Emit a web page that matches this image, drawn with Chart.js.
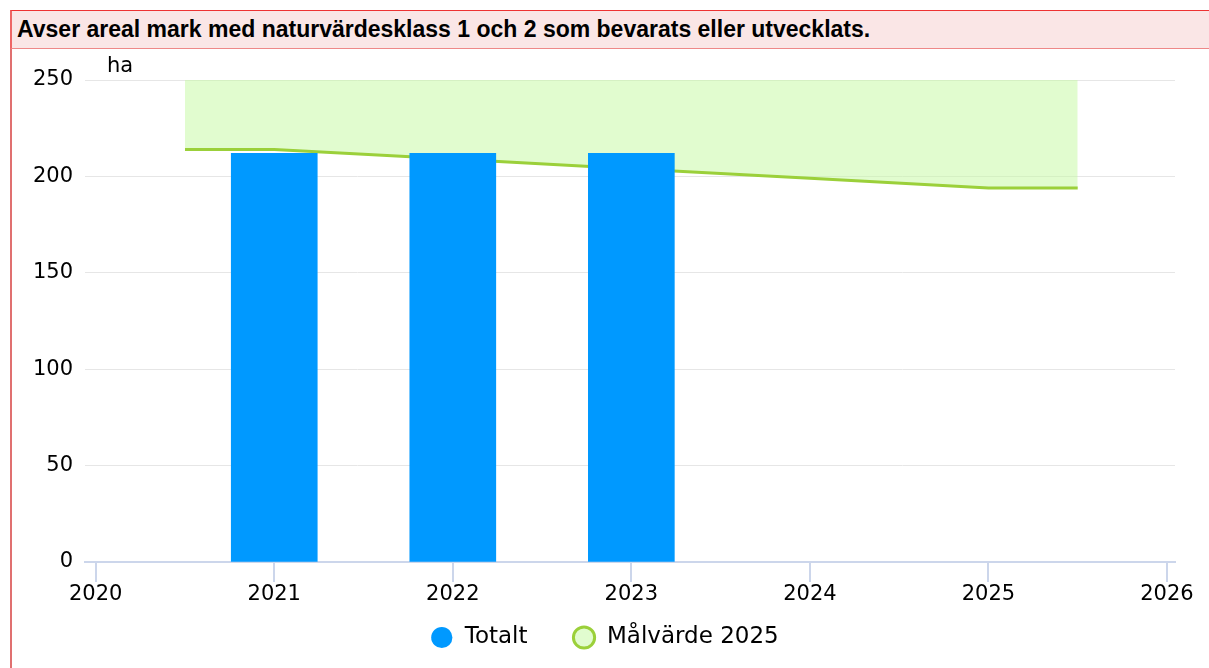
<!DOCTYPE html>
<html>
<head>
<meta charset="utf-8">
<script src="https://cdn.jsdelivr.net/npm/chart.js@4"></script>
<style>
  html, body { margin: 0; padding: 0; background: #fff; }
  body { width: 1209px; height: 668px; position: relative; overflow: hidden; }
  #rubrik {
    position: absolute; left: 10px; top: 10px; width: 1205px; height: 39px;
    background: #fae6e6; border-top: 1px solid #e33; border-bottom: 1px solid #e88; border-left: 2px solid #e66;
    font: bold 23px "Liberation Sans", sans-serif; color: #000;
    line-height: 37px; padding-left: 5px; box-sizing: border-box;
  }
  #ram {
    position: absolute; left: 10px; top: 49px; width: 1199px; height: 619px;
    border-left: 2px solid #e07070; box-sizing: border-box;
  }
  #wrap { position: absolute; left: 0; top: 0; width: 1197px; height: 619px; }
</style>
</head>
<body>
<div id="rubrik">Avser areal mark med naturvärdesklass 1 och 2 som bevarats eller utvecklats.</div>
<div id="ram"><div id="wrap"><canvas id="diagram"></canvas></div></div>
<script>
// data
const ar = [2021, 2022, 2023];
const totalt = [212, 212, 212];
const malAr = [2020.5, 2021, 2022, 2023, 2024, 2025, 2025.5];
const malvarde = [214, 214, 209, 204, 199, 194, 194];
const xMin = 2019.94, xMax = 2026.045;
const yMin = 0, yMax = 250, ySteg = 50;
const enhet = 'ha';

const font = '"DejaVu Sans", sans-serif';

// "ha" ovanför y-axeln
const enhetPlugin = {
    id: 'enhet',
    afterDraw(chart) {
        const ctx = chart.ctx;
        ctx.save();
        ctx.font = '21px ' + font;
        ctx.fillStyle = '#000';
        ctx.textBaseline = 'alphabetic';
        ctx.fillText(enhet, chart.chartArea.left + 22, chart.chartArea.top - 8);
        ctx.restore();
    }
};

// bred luft mellan legendposterna utan att legenden blir hög
const legendPlugin = {
    id: 'legendLuft',
    afterInit(chart) {
        const lg = chart.legend;
        if (!lg) return;
        const fit0 = lg.fit;
        lg.fit = function () { fit0.call(this); this.height = 49; };
        const draw0 = lg.draw;
        lg.draw = function () {
            this.top -= 28; this.left += 11; this.right += 11;
            draw0.call(this);
            this.top += 28; this.left -= 11; this.right -= 11;
        };
    }
};

var ctx = document.getElementById('diagram').getContext('2d');
new Chart(ctx, {
    data: {
        datasets: [{
            type: 'bar',
            label: 'Totalt',
            data: ar.map((x, i) => ({ x: x, y: totalt[i] })),
            backgroundColor: '#0099ff',
            borderWidth: 0,
            barThickness: 86,
            pointStyle: 'circle'
        }, {
            type: 'line',
            label: 'Målvärde 2025',
            data: malAr.map((x, i) => ({ x: x, y: malvarde[i] })),
            borderColor: '#9bd03a',
            backgroundColor: 'rgba(195, 250, 160, 0.5)',
            borderWidth: 3,
            pointRadius: 0,
            pointStyle: 'circle',
            fill: 'end',
            tension: 0
        }]
    },
    options: {
        responsive: true,
        maintainAspectRatio: false,
        animation: false,
        layout: { padding: { left: 0, right: 34, top: 31, bottom: 10 } },
        plugins: {
            legend: {
                position: 'bottom',
                labels: {
                    usePointStyle: true,
                    boxHeight: 15,
                    padding: 45,
                    color: '#000',
                    font: { family: font, size: 23 }
                }
            },
            tooltip: { enabled: false }
        },
        scales: {
            x: {
                type: 'linear',
                min: xMin,
                max: xMax,
                offset: false,
                afterFit: s => { s.height = 47; },
                border: { color: '#ccd6eb', width: 2 },
                grid: { offset: false, drawOnChartArea: false, drawTicks: true, tickLength: 20, color: '#ccd6eb', lineWidth: 2 },
                ticks: {
                    stepSize: 1,
                    includeBounds: false,
                    padding: 0,
                    maxRotation: 0,
                    color: '#000',
                    font: { family: font, size: 21 },
                    callback: v => String(v)
                }
            },
            y: {
                min: yMin,
                max: yMax,
                afterFit: s => { s.width = 73; },
                border: { display: false },
                grid: { color: '#e6e6e6', lineWidth: 1, drawTicks: false },
                ticks: {
                    stepSize: ySteg,
                    padding: 12,
                    color: '#000',
                    font: { family: font, size: 21 }
                }
            }
        }
    },
    plugins: [enhetPlugin, legendPlugin]
});
</script>
</body>
</html>
